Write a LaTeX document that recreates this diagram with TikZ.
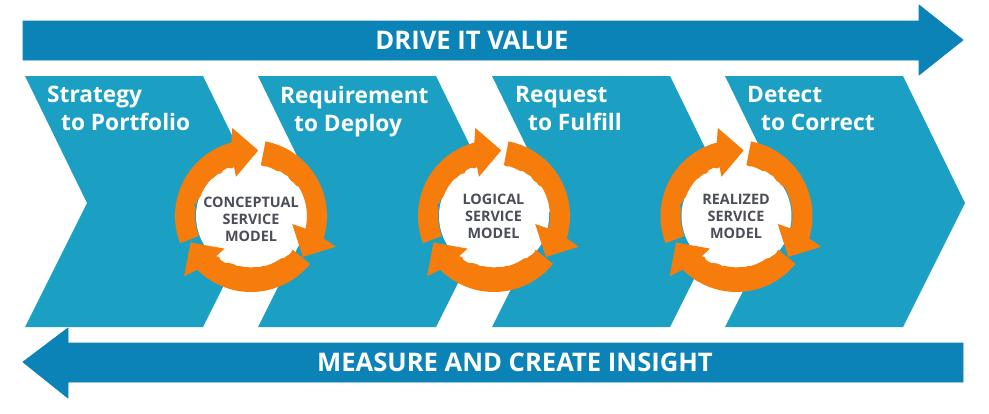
\documentclass[tikz,border=0pt]{standalone}
\usepackage{fontspec}
\setmainfont{Open Sans}
\definecolor{bandblue}{HTML}{0C83B7}
\definecolor{stageblue}{HTML}{1BA0C3}
\definecolor{cycleorange}{HTML}{F67C0C}
\definecolor{modelgrey}{HTML}{4B4D58}
\tikzset{
  band/.style={fill=bandblue,draw=bandblue,line width=0.8pt,line join=round},
  stage/.style={fill=stageblue},
  cyclearrow/.style={fill=cycleorange},
  hub/.style={fill=white},
  bandtext/.style={text=white,font=\fontsize{25.6}{30}\selectfont\bfseries,inner sep=0pt},
  stagetext/.style={text=white,font=\fontsize{22.7}{28}\selectfont\bfseries,inner sep=0pt,align=left,anchor=north west},
  modeltext/.style={text=modelgrey,font=\fontsize{14.4}{16.8}\selectfont\bfseries,inner sep=0pt,align=center}
}
% One stage of the value chain, given its left edge
\newcommand{\stageshape}[1]{%
  \fill[stage] (#1,327) -- ++(178,0) -- ++(62,-124) -- ++(-62,-127)
    -- ++(-178,0) -- ++(62,127) -- cycle;}
% Three rotating arrows round a white hub; the inner edges trace a slightly flattened ellipse
\newcommand{\cyclering}[2]{%
  \begin{scope}[shift={(#1,#2)},yscale=-1]
    \fill[hub] (0,0) circle (55);
    \foreach \turn in {0,-122,-240}{
      \fill[cyclearrow,rotate=\turn]
        (201:76) arc[start angle=201,end angle=105,radius=76]
        -- (102:90) -- (83.7:66) -- (111:42)
        -- plot[domain=109:201,samples=30,smooth]
             (\x:{1/sqrt((cos(\x+\turn)/55)^2+(sin(\x+\turn)/50.5)^2)}) -- cycle;
    }
  \end{scope}}
\begin{document}
\begin{tikzpicture}[x=1pt,y=1pt,yscale=-1]
  \useasboundingbox (0,0) rectangle (989,413);
  \fill[white] (0,0) rectangle (989,413);

  % Upper and lower bands
  \filldraw[band] (23,21) -- (919,21) -- (919,5) -- (963,40) -- (919,75) -- (919,60) -- (23,60) -- cycle;
  \filldraw[band] (963,343) -- (68,343) -- (68,328) -- (23,362) -- (68,398) -- (68,382) -- (963,382) -- cycle;
  \node[bandtext] (drive) at (472,40) {DRIVE IT VALUE};
  \node[bandtext] (measure) at (515,362) {MEASURE AND CREATE INSIGHT};

  % Value chain stages
  \stageshape{25}
  \stageshape{258}
  \stageshape{492}
  \stageshape{725}
  \node[stagetext] (strategy) at (47,86) {Strategy\\\hspace*{14pt}to Portfolio};
  \node[stagetext] (requirement) at (280,86) {Requirement\\\hspace*{14pt}to Deploy};
  \node[stagetext] (request) at (515,86) {Request\\\hspace*{13pt}to Fulfill};
  \node[stagetext] (detect) at (747,86) {Detect\\\hspace*{14pt}to Correct};

  % Service model cycles
  \cyclering{251}{216}
  \cyclering{494}{216}
  \cyclering{736.5}{216}
  \node[modeltext] (conceptual) at (251,219.5) {CONCEPTUAL\\SERVICE\\MODEL};
  \node[modeltext] (logical) at (493.5,216.5) {LOGICAL\\SERVICE\\MODEL};
  \node[modeltext] (realized) at (736,216.5) {REALIZED\\SERVICE\\MODEL};
\end{tikzpicture}
\end{document}
